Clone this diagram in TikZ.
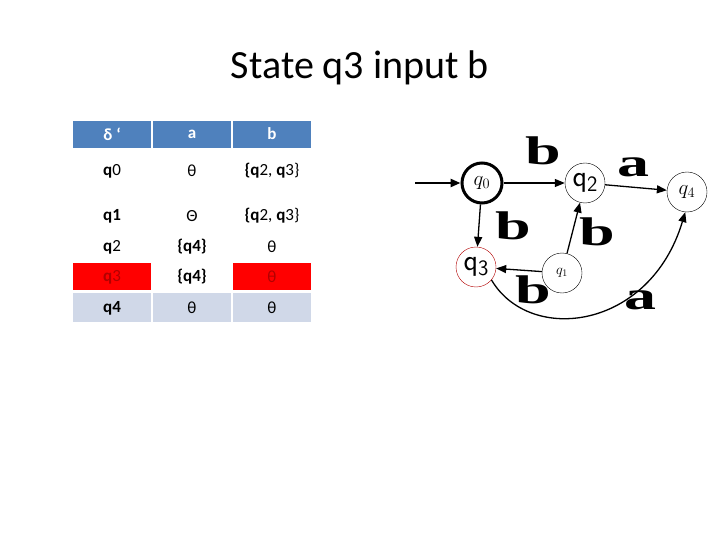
\documentclass[tikz,border=0pt]{standalone}
\usepackage{fontspec}
\setmainfont{Carlito}
\newfontfamily\serifb{Liberation Serif}
\usetikzlibrary{arrows.meta}
\definecolor{hdr}{HTML}{4F81BD}
\definecolor{lite}{HTML}{D0D8E8}
\begin{document}
\begin{tikzpicture}[x=1pt,y=-1pt,
  cellt/.style={font=\fontsize{17}{19}\selectfont},
  st/.style={circle,draw,minimum size=40pt,inner sep=0pt,font=\serifb\itshape\fontsize{22}{24}\selectfont},
  lab/.style={font=\serifb\bfseries\fontsize{40}{40}\selectfont,inner sep=0pt,xscale=1.6},
  edge/.style={-{Triangle[length=10pt,width=8pt]},line width=1.3pt}]
\useasboundingbox (0,0) rectangle (720,540);
\node (title) at (360,68) {\fontsize{40}{44}\selectfont State q3 input b};
% table fills
\fill[hdr] (73,121) rectangle (151,148);
\fill[hdr] (153,121) rectangle (231,148);
\fill[hdr] (233,121) rectangle (311,148);
\fill[red] (73,263) rectangle (151,290);
\fill[red] (233,263) rectangle (311,290);
\fill[lite] (73,293) rectangle (151,322);
\fill[lite] (153,293) rectangle (231,322);
\fill[lite] (233,293) rectangle (311,322);
\foreach \t/\x in {{δ ‘}/112,a/192,b/272}{\node[text=white,font=\bfseries\fontsize{17}{19}\selectfont] at (\x,134) {\t};}
\node[cellt] (r0a) at (112,171) {\textbf{q}0};
\node[cellt] (r0b) at (192,171) {θ};
\node[cellt] (r0c) at (272,171) {\textbf{\{q}2, \textbf{q}3\}};
\node[cellt] (r1a) at (112,216) {\textbf{q1}};
\node[cellt] (r1b) at (192,216) {Θ};
\node[cellt] (r1c) at (272,216) {\textbf{\{q}2, \textbf{q}3\}};
\node[cellt] (r2a) at (112,247) {\textbf{q}2};
\node[cellt] (r2b) at (192,247) {\textbf{\{q4\}}};
\node[cellt] (r2c) at (272,247) {θ};
\node[cellt,text=red!70!black] (r3a) at (112,277) {\textbf{q}3};
\node[cellt] (r3b) at (192,277) {\textbf{\{q4\}}};
\node[cellt,text=red!70!black] (r3c) at (272,277) {θ};
\node[cellt] (r4a) at (112,308) {\textbf{q4}};
\node[cellt] (r4b) at (192,308) {θ};
\node[cellt] (r4c) at (272,308) {θ};
% automaton
\node[st,line width=3pt] (q0) at (482,183) {$q_0$};
\node[st] (q2) at (585,183) {\upshape\sffamily\fontsize{30}{32}\selectfont q\raisebox{-5pt}{\fontsize{22}{24}\selectfont 2}};
\node[st] (q4) at (687,192) {$q_4$};
\node[st,draw=red!70!black] (q3) at (476,267) {\upshape\sffamily\fontsize{30}{32}\selectfont q\raisebox{-5pt}{\fontsize{22}{24}\selectfont 3}};
\node[st,font=\fontsize{14}{16}\selectfont] (q1) at (562,273) {$q_1$};
\coordinate (s) at (415,183);
\draw[edge,line width=2.5pt] (s) -- (q0);
\draw[edge] (q0) -- (q2);
\draw[edge] (q2) -- (q4);
\draw[edge] (q0) -- (q3);
\draw[edge] (q1) -- (q2);
\draw[edge] (q1) -- (q3);
\draw[edge] (q3.-40) .. controls (530,345) and (650,330) .. (q4.-95);
\node[lab] (l1) at (543,151) {b};
\node[lab] (l2) at (633,167) {a};
\node[lab] (l3) at (513,226) {b};
\node[lab] (l4) at (597,232) {b};
\node[lab] (l5) at (533,290) {b};
\node[lab] (l6) at (640,300) {a};
\end{tikzpicture}
\end{document}
